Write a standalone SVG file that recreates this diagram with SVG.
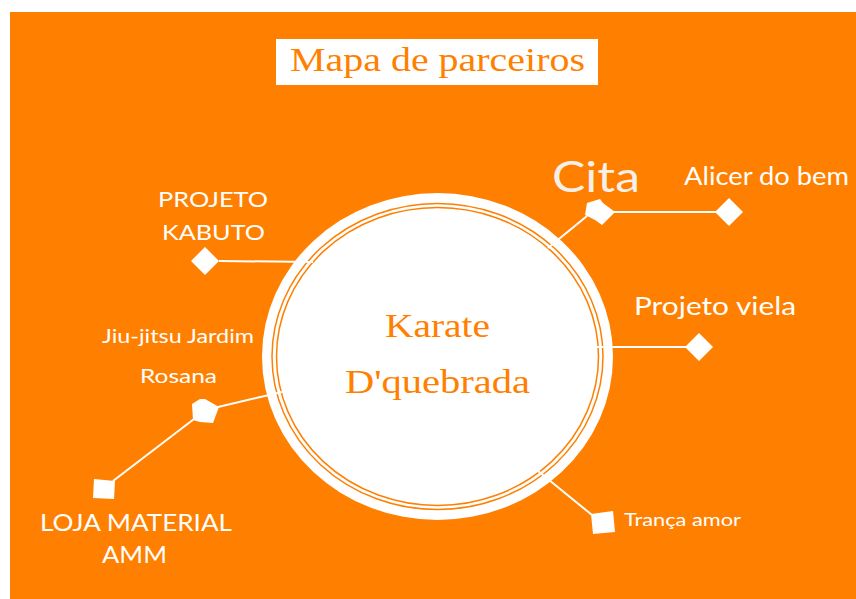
<svg xmlns="http://www.w3.org/2000/svg" width="856" height="599" viewBox="0 0 856 599">
<style>
.lbl{font-family:Lato,"Liberation Sans",sans-serif;fill:#ffffff;}
.serif{font-family:"Liberation Serif","DejaVu Serif",serif;fill:#ff7f00;}
.conn{stroke:#ffffff;stroke-width:2;fill:none;}
.shape{fill:#ffffff;}
.ring{fill:none;stroke:#ff7f00;stroke-width:1.5;}
</style>
<rect x="0" y="0" width="856" height="599" fill="#ffffff"/>
<rect x="10" y="12" width="846" height="587" fill="#ff7f00"/>
<g id="title">
<rect x="276" y="39" width="322" height="46" fill="#ffffff"/>
<text class="serif" x="290" y="71" font-size="34" textLength="295" lengthAdjust="spacingAndGlyphs">Mapa de parceiros</text>
</g>
<g id="center">
<ellipse cx="437.5" cy="356.5" rx="175.5" ry="163.5" fill="#ffffff"/>
<ellipse class="ring" cx="437.5" cy="356.5" rx="165.5" ry="153"/>
<ellipse class="ring" cx="437.5" cy="356.5" rx="161" ry="149"/>
</g>
<g id="connectors">
<line class="conn" x1="219" y1="261" x2="313" y2="262"/>
<line class="conn" x1="587" y1="216" x2="548" y2="248"/>
<line class="conn" x1="612" y1="212" x2="717" y2="212"/>
<line class="conn" x1="593" y1="347" x2="686" y2="347"/>
<line class="conn" x1="218" y1="407" x2="282" y2="392"/>
<line class="conn" x1="194" y1="419" x2="113" y2="481"/>
<line class="conn" x1="538" y1="471" x2="592" y2="515"/>
</g>
<g id="center-label">
<text class="serif" x="437.5" y="337" font-size="34" text-anchor="middle" textLength="105" lengthAdjust="spacingAndGlyphs">Karate</text>
<text class="serif" x="437.5" y="393" font-size="34" text-anchor="middle" textLength="185" lengthAdjust="spacingAndGlyphs">D'quebrada</text>
</g>
<g id="cita">
<polygon class="shape" points="587,203 600,199 603,203 615,212 602,225 595,220 585,215"/>
<text class="lbl" x="552" y="192" font-size="42" fill="#f4efe8" style="fill:#f4efe8" textLength="88" lengthAdjust="spacingAndGlyphs">Cita</text>
</g>
<g id="alicer">
<polygon class="shape" points="729,198 743,212 729,226 715,212"/>
<text class="lbl" x="684" y="185" font-size="25" textLength="165" lengthAdjust="spacingAndGlyphs">Alicer do bem</text>
</g>
<g id="viela">
<polygon class="shape" points="699,333 713,347 699,361 685,347"/>
<text class="lbl" x="634" y="315" font-size="25" textLength="162" lengthAdjust="spacingAndGlyphs">Projeto viela</text>
</g>
<g id="kabuto">
<polygon class="shape" points="205,247 219,261 205,275 191,261"/>
<text class="lbl" x="158" y="207" font-size="22" textLength="110" lengthAdjust="spacingAndGlyphs">PROJETO</text>
<text class="lbl" x="162" y="240" font-size="22" textLength="103" lengthAdjust="spacingAndGlyphs">KABUTO</text>
</g>
<g id="jiujitsu">
<polygon class="shape" points="192,404 200,399 205,399 219,407 213,423 200,422 193,420"/>
<text class="lbl" x="102" y="343" font-size="19.5" textLength="152" lengthAdjust="spacingAndGlyphs">Jiu-jitsu Jardim</text>
<text class="lbl" x="140" y="383" font-size="19" textLength="77" lengthAdjust="spacingAndGlyphs">Rosana</text>
</g>
<g id="loja">
<polygon class="shape" points="94,479 115,481 114,499 93,498"/>
<text class="lbl" x="40" y="531" font-size="23" textLength="192" lengthAdjust="spacingAndGlyphs">LOJA MATERIAL</text>
<text class="lbl" x="102" y="563" font-size="23" textLength="65" lengthAdjust="spacingAndGlyphs">AMM</text>
</g>
<g id="tranca">
<polygon class="shape" points="591,514 613,511 615,532 593,534"/>
<text class="lbl" x="624" y="526" font-size="18" textLength="117" lengthAdjust="spacingAndGlyphs">Trança amor</text>
</g>
</svg>
